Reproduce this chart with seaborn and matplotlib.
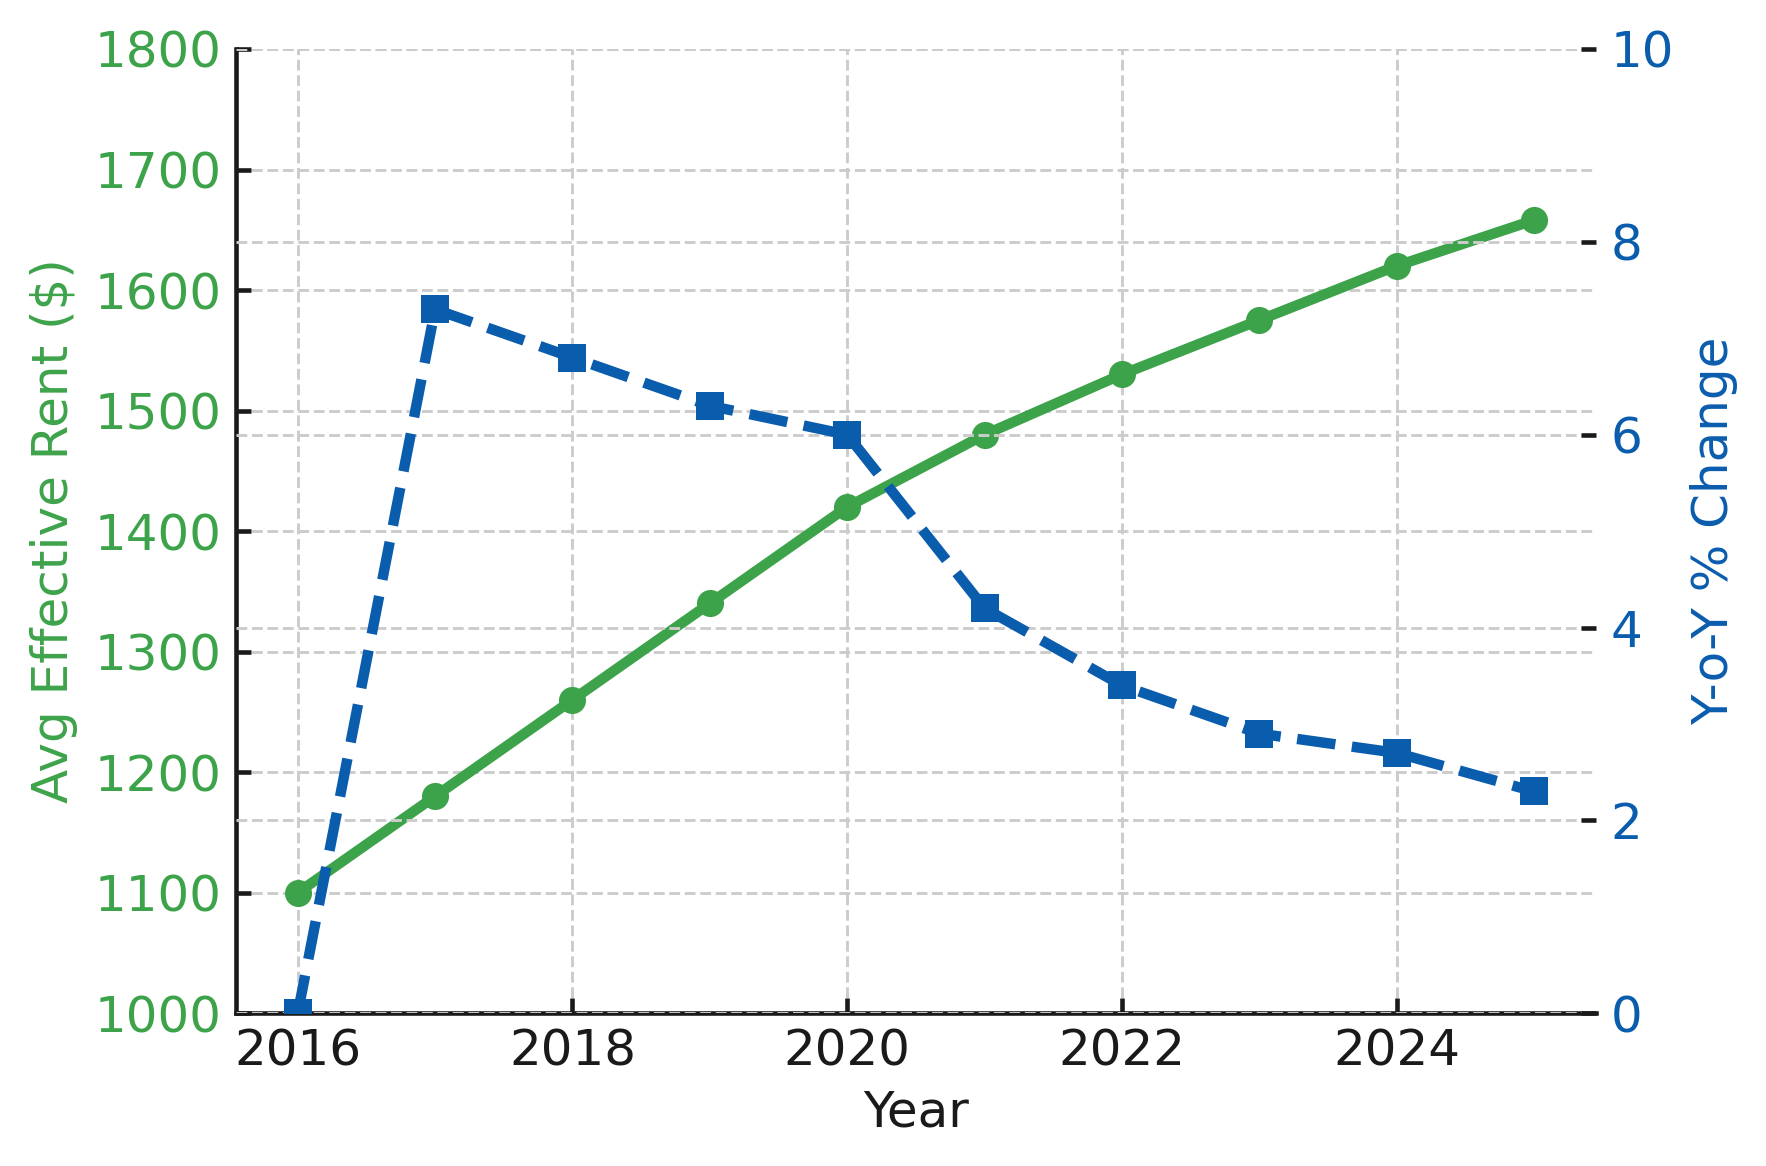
import matplotlib
matplotlib.use("Agg")
import matplotlib.pyplot as plt
import seaborn as sns

years = [2016, 2017, 2018, 2019, 2020, 2021, 2022, 2023, 2024, 2025]
rent = [1100, 1180, 1260, 1340, 1420, 1480, 1530, 1575, 1620, 1658]
yoy_pct = [0.0, 7.3, 6.8, 6.3, 6.0, 4.2, 3.4, 2.9, 2.7, 2.3]

x_ticks = [2016, 2018, 2020, 2022, 2024]
rent_ticks = [1000, 1100, 1200, 1300, 1400, 1500, 1600, 1700, 1800]
pct_ticks = [0, 2, 4, 6, 8, 10]

GREEN = '#3da34a'
BLUE = '#0a5cad'
DARK = '#1a1a1a'

sns.set_theme(style="white")
plt.rcParams['font.family'] = ['DejaVu Sans']

fig = plt.figure(figsize=(1766 / 300, 1166 / 300), dpi=300)
ax1 = fig.add_axes([0.1336, 0.131, 0.7700, 0.827])
ax2 = ax1.twinx()

# ── Lines ─────────────────────────────────────────────────────────────────
sns.lineplot(x=years, y=rent, ax=ax1, color=GREEN, marker='o',
             markersize=6.5, markeredgewidth=0, linewidth=2.5)
sns.lineplot(x=years, y=yoy_pct, ax=ax2, color=BLUE, marker='s',
             markersize=6.5, markeredgewidth=0, linewidth=2.5)
ax2.lines[0].set_linestyle('--')

# ── Axes ──────────────────────────────────────────────────────────────────
ax1.set_ylim(1000, 1800)
ax2.set_ylim(0, 10)
ax1.set_xticks(x_ticks)
ax1.set_yticks(rent_ticks)
ax2.set_yticks(pct_ticks)

for ax in (ax1, ax2):
    ax.grid(True, linestyle='--', linewidth=0.7, color='#cccccc')
    for s in ax.spines.values():
        s.set_visible(False)
ax2.grid(False, axis='x')

ax1.spines['left'].set_visible(True)
ax1.spines['bottom'].set_visible(True)
for s in ('left', 'bottom'):
    ax1.spines[s].set_color(DARK)
    ax1.spines[s].set_linewidth(1.1)

ax1.tick_params(axis='both', direction='in', length=3.6, width=1.1,
                color=DARK, labelsize=12, left=True, bottom=True)
ax1.tick_params(axis='y', labelcolor=GREEN)
ax1.tick_params(axis='x', labelcolor=DARK)
ax2.tick_params(axis='y', direction='in', length=3.6, width=1.1,
                color=DARK, labelsize=12, labelcolor=BLUE, right=True)

ax1.set_xlabel('Year', fontsize=12, color=DARK, labelpad=3)
ax1.set_ylabel('Avg Effective Rent ($)', fontsize=12, color=GREEN)
ax2.set_ylabel('Y-o-Y % Change', fontsize=12, color=BLUE)

fig.savefig('out.png', dpi=300)
plt.close(fig)
